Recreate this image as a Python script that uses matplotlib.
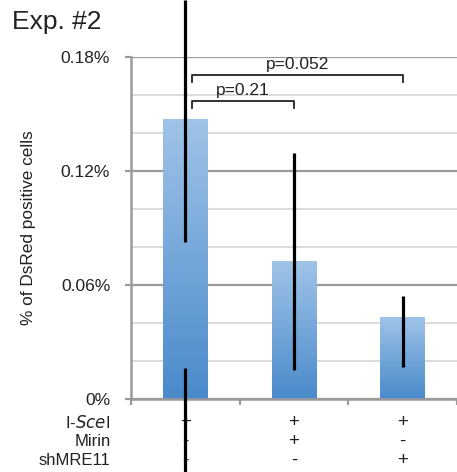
import numpy as np
import matplotlib.pyplot as plt
from matplotlib.colors import LinearSegmentedColormap

plt.rcParams['font.family'] = ['Liberation Sans', 'DejaVu Sans']

# datos (en %)
grupos = ['g1', 'g2', 'g3']
valores = [0.1474, 0.0726, 0.0432]
err_bajo = [0.0163, 0.0153, 0.0168]
err_alto = [0.2100, 0.1295, 0.0542]
# la barra de error del primer grupo se corta dentro de la barra
hueco_1 = [0.0163, 0.0826]
err_fuera = -0.040

filas = ['I-$\\it{Sce}$I', 'Mirin', 'shMRE11']
signos = [['+', '+', '+'],
          ['-', '+', '-'],
          ['-', '-', '+']]

comparaciones = [(0, 1, 0.1568, 'p=0.21'), (0, 2, 0.1705, 'p=0.052')]

fig = plt.figure(figsize=(4.57, 4.72), dpi=100)
ax = fig.add_axes([0.2867, 0.1547, 0.7133, 0.7246])

x = np.arange(len(grupos))
ancho = 0.41
barras = ax.bar(x, valores, width=ancho, color='none', zorder=2)

# degradado azul en cada barra
cmap = LinearSegmentedColormap.from_list('azul', ['#4a8acb', '#a0c4e8'])
grad = np.linspace(0, 1, 256).reshape(-1, 1)
for b in barras:
    x0, y0 = b.get_x(), b.get_y()
    im = ax.imshow(grad, cmap=cmap, aspect='auto', origin='lower',
                   extent=[x0, x0 + b.get_width(), y0, y0 + b.get_height()], zorder=2)
    im.set_clip_path(b)

# barras de error
ax.vlines(0, hueco_1[1], err_alto[0], color='black', lw=2.3, zorder=4, clip_on=False)
ax.vlines(0, err_fuera, hueco_1[0], color='black', lw=2.3, zorder=4, clip_on=False)
for i in range(1, 3):
    ax.vlines(i, err_bajo[i], err_alto[i], color='black', lw=2.3, zorder=4)

# corchetes de p
for a, b, y, txt in comparaciones:
    xa, xb = a + 0.06, b
    ax.plot([xa, xa, xb, xb], [y - 0.0037, y, y, y - 0.0037], color='#222222', lw=1.3, zorder=3)
    ax.text((xa + xb) / 2, y + 0.0015, txt, ha='center', va='bottom', fontsize=12.5, color='#222222')

ax.set_xlim(-0.5, 2.43)
ax.set_ylim(0, 0.18)
ax.set_yticks([0, 0.06, 0.12, 0.18])
ax.set_yticklabels(['0%', '0.06%', '0.12%', '0.18%'])
ax.set_yticks(np.arange(0, 0.181, 0.02), minor=True)
ax.set_xticks([-0.5, 0.5, 1.5, 2.5])
ax.set_xticklabels([])
ax.grid(axis='y', which='minor', color='#d4d4d4', lw=1.2, zorder=0)
ax.grid(axis='y', which='major', color='#9a9a9a', lw=1.6, zorder=0)
ax.set_axisbelow(True)
ax.tick_params(axis='y', which='major', length=4, color='#9a9a9a', width=1.6, labelsize=12.5, pad=11, labelcolor='#222222')
ax.tick_params(axis='y', which='minor', length=0)
ax.tick_params(axis='x', length=4, color='#9a9a9a', width=1.6)
for s in ['top', 'right']:
    ax.spines[s].set_visible(False)
for s in ['left', 'bottom']:
    ax.spines[s].set_color('#9a9a9a')
    ax.spines[s].set_linewidth(1.8)

ax.set_ylabel('% of DsRed positive cells', fontsize=12.4, labelpad=18, color='#222222')

# tabla de tratamientos
for j, fila in enumerate(filas):
    yfila = -0.0125 - j * 0.01
    ax.text(-0.69, yfila, fila, ha='right', va='center', fontsize=12, color='#222222',
            transform=ax.transData, clip_on=False)
    for i in range(3):
        ax.text(i, yfila, signos[j][i], ha='center', va='center', fontsize=13.5, color='#222222',
                clip_on=False)

fig.text(0.026, 0.953, 'Exp. #2', fontsize=19, ha='left', va='center', color='#222222')

fig.savefig('out.png', dpi=100)
